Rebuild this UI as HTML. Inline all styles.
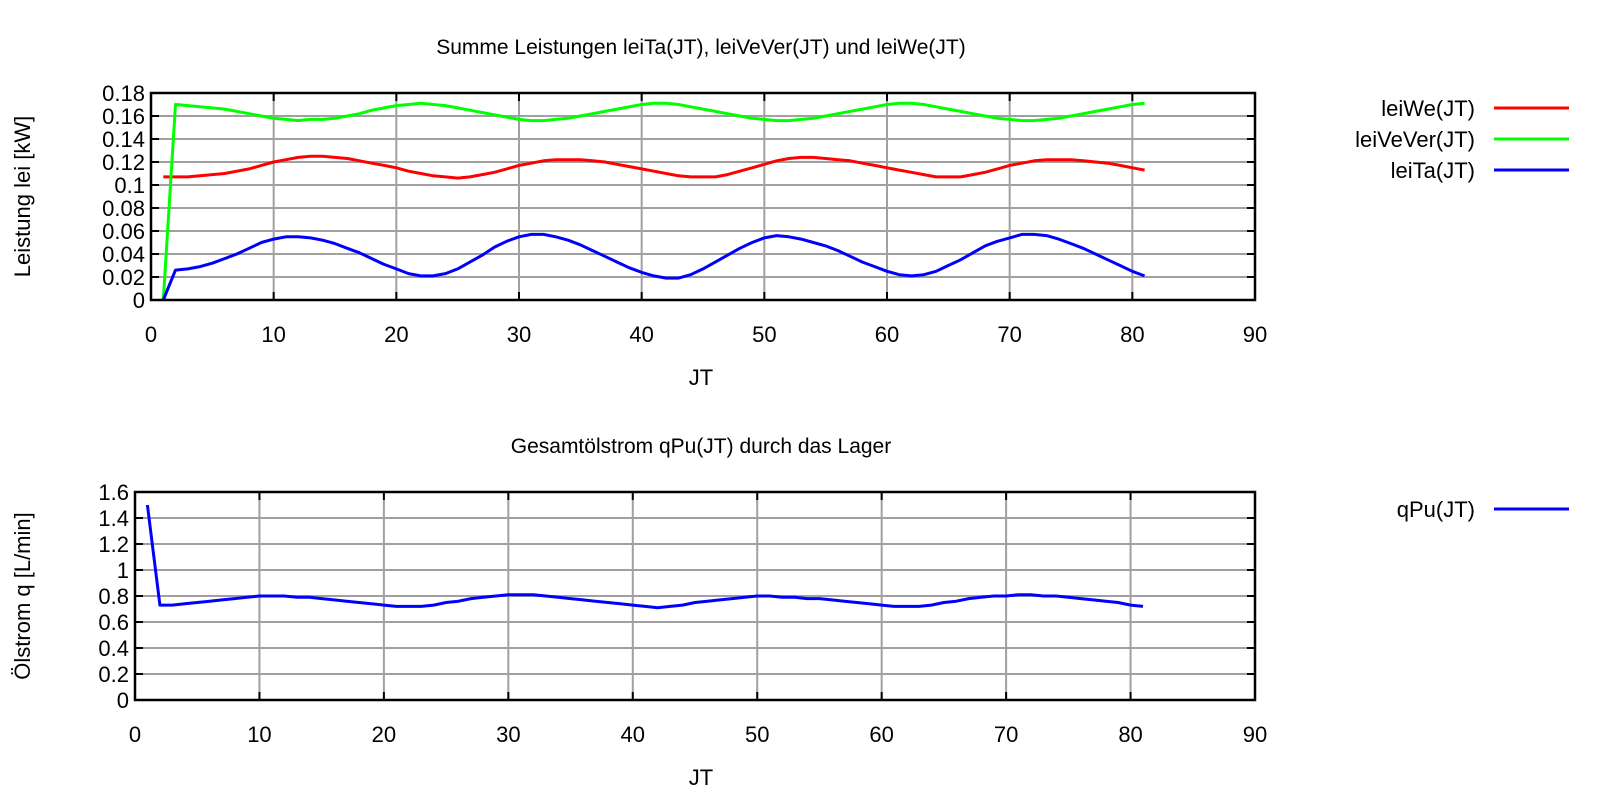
<!DOCTYPE html>
<html><head><meta charset="utf-8"><style>
html,body{margin:0;padding:0;background:#fff;}
svg text{font-family:"Liberation Sans",sans-serif;fill:#000;}
</style></head><body>
<svg id="chart" width="1600" height="800" xmlns="http://www.w3.org/2000/svg">
<g id="g"></g>
</svg>
<script>
const jt = [];
for (let i = 1; i <= 81; i++) jt.push(i);
const leiVeVer = [0,.170,.169,.168,.167,.166,.164,.162,.160,.158,.157,.156,.157,.157,.158,.160,.162,.165,.167,.169,.170,.171,.170,.169,.167,.165,.163,.161,.159,.157,.156,.156,.157,.158,.160,.162,.164,.166,.168,.170,.171,.171,.170,.168,.166,.164,.162,.160,.158,.157,.156,.156,.157,.158,.160,.162,.164,.166,.168,.170,.171,.171,.170,.168,.166,.164,.162,.160,.158,.157,.156,.156,.157,.158,.160,.162,.164,.166,.168,.170,.171];
const leiWe = [.107,.107,.107,.108,.109,.110,.112,.114,.117,.120,.122,.124,.125,.125,.124,.123,.121,.119,.117,.115,.112,.110,.108,.107,.106,.107,.109,.111,.114,.117,.119,.121,.122,.122,.122,.121,.120,.118,.116,.114,.112,.110,.108,.107,.107,.107,.109,.112,.115,.118,.121,.123,.124,.124,.123,.122,.121,.119,.117,.115,.113,.111,.109,.107,.107,.107,.109,.111,.114,.117,.119,.121,.122,.122,.122,.121,.120,.119,.117,.115,.113];
const leiTa = [0,.026,.027,.029,.032,.036,.040,.045,.050,.053,.055,.055,.054,.052,.049,.045,.041,.036,.031,.027,.023,.021,.021,.023,.027,.033,.039,.046,.051,.055,.057,.057,.055,.052,.048,.043,.038,.033,.028,.024,.021,.019,.019,.022,.027,.033,.039,.045,.050,.054,.056,.055,.053,.050,.047,.043,.038,.033,.029,.025,.022,.021,.022,.025,.030,.035,.041,.047,.051,.054,.057,.057,.056,.053,.049,.045,.040,.035,.030,.025,.021];
const qPu = [1.5,.73,.73,.74,.75,.76,.77,.78,.79,.80,.80,.80,.79,.79,.78,.77,.76,.75,.74,.73,.72,.72,.72,.73,.75,.76,.78,.79,.80,.81,.81,.81,.80,.79,.78,.77,.76,.75,.74,.73,.72,.71,.72,.73,.75,.76,.77,.78,.79,.80,.80,.79,.79,.78,.78,.77,.76,.75,.74,.73,.72,.72,.72,.73,.75,.76,.78,.79,.80,.80,.81,.81,.80,.80,.79,.78,.77,.76,.75,.73,.72];
const xTicks = [0,10,20,30,40,50,60,70,80,90];
const yTicksTop = [0,0.02,0.04,0.06,0.08,0.1,0.12,0.14,0.16,0.18];
const yTickLabelsTop = ["0","0.02","0.04","0.06","0.08","0.1","0.12","0.14","0.16","0.18"];
const yTicksBot = [0,0.2,0.4,0.6,0.8,1,1.2,1.4,1.6];
const yTickLabelsBot = ["0","0.2","0.4","0.6","0.8","1","1.2","1.4","1.6"];

const NS = "http://www.w3.org/2000/svg";
const G = document.getElementById('g');
function mk(tag, attrs, parent) {
  const e = document.createElementNS(NS, tag);
  for (const k in attrs) e.setAttribute(k, attrs[k]);
  (parent || G).appendChild(e);
  return e;
}
function panel(p) {
  const grp = mk('g', {});
  
  
  const sx = v => p.x0 + (v - 0) / 90 * (p.x1 - p.x0);
  const sy = v => p.y0 - v / p.ymax * (p.y0 - p.y1);
  xTicks.forEach(t => {
    if (t === 0 || t === 90) return;
    const l = mk('line', {x1: sx(t), x2: sx(t), y1: p.y1, y2: p.y0, stroke: '#a0a0a0', 'stroke-width': 2}, grp);
    
    
  });
  p.yt.forEach(t => {
    if (t === 0 || t === p.ymax) return;
    const l = mk('line', {x1: p.x0, x2: p.x1, y1: sy(t), y2: sy(t), stroke: '#a0a0a0', 'stroke-width': 2}, grp);
    
    
  });
  xTicks.forEach(t => {
    mk('line', {x1: sx(t), x2: sx(t), y1: p.y0, y2: p.y0 - 8, stroke: '#000', 'stroke-width': 2}, grp);
    mk('line', {x1: sx(t), x2: sx(t), y1: p.y1, y2: p.y1 + 8, stroke: '#000', 'stroke-width': 2}, grp);
    const tx = mk('text', {x: sx(t), y: p.y0 + 42, 'font-size': 22, 'text-anchor': 'middle'}, grp);
    tx.textContent = String(t);
    
    
  });
  p.yt.forEach((t, i) => {
    mk('line', {x1: p.x0, x2: p.x0 + 8, y1: sy(t), y2: sy(t), stroke: '#000', 'stroke-width': 2}, grp);
    mk('line', {x1: p.x1, x2: p.x1 - 8, y1: sy(t), y2: sy(t), stroke: '#000', 'stroke-width': 2}, grp);
    const tx = mk('text', {x: p.x0 - 6, y: sy(t) + 8, 'font-size': 22, 'text-anchor': 'end'}, grp);
    tx.textContent = p.ytl[i];
    
    
  });
  p.series.forEach((s, si) => {
    const d = jt.map((x, i) => (i ? 'L' : 'M') + sx(x).toFixed(1) + ',' + sy(s.vals[i]).toFixed(1)).join('');
    const path = mk('path', {d: d, fill: 'none', stroke: s.color, 'stroke-width': 3, 'stroke-linejoin': 'round'}, grp);
    
    
    const ly = p.legY + si * 31;
    const lt = mk('text', {x: 1475, y: ly + 8, 'font-size': 22, 'text-anchor': 'end'}, grp);
    lt.textContent = s.label;
    
    
    const ll = mk('line', {x1: 1494, x2: 1569, y1: ly, y2: ly, stroke: s.color, 'stroke-width': 3}, grp);
    
    
  });
  const b = mk('rect', {x: p.x0, y: p.y1, width: p.x1 - p.x0, height: p.y0 - p.y1, fill: 'none', stroke: '#000', 'stroke-width': 2.5}, grp);
  
  
  const ti = mk('text', {x: 701, y: p.titleY, 'font-size': 21, 'text-anchor': 'middle'}, grp);
  ti.textContent = p.title;
  
  
  const xl = mk('text', {x: 701, y: p.y0 + 85, 'font-size': 22, 'text-anchor': 'middle'}, grp);
  xl.textContent = 'JT';
  
  
  const cy = (p.y0 + p.y1) / 2;
  const yl = mk('text', {x: 30, y: cy, 'font-size': 22, 'text-anchor': 'middle', transform: 'rotate(-90 30 ' + cy + ')'}, grp);
  yl.textContent = p.ylabel;
  
  
}
panel({name: 'top-panel', x0: 151, x1: 1255, y0: 300, y1: 93, ymax: 0.18, yt: yTicksTop, ytl: yTickLabelsTop,
  title: 'Summe Leistungen leiTa(JT), leiVeVer(JT) und leiWe(JT)', titleY: 54, ylabel: 'Leistung lei [kW]', legY: 108,
  series: [{name: 'leiWe-line', label: 'leiWe(JT)', color: '#ff0000', vals: leiWe},
           {name: 'leiVeVer-line', label: 'leiVeVer(JT)', color: '#00ff00', vals: leiVeVer},
           {name: 'leiTa-line', label: 'leiTa(JT)', color: '#0000ff', vals: leiTa}]});
panel({name: 'bottom-panel', x0: 135, x1: 1255, y0: 700, y1: 492, ymax: 1.6, yt: yTicksBot, ytl: yTickLabelsBot,
  title: 'Gesamtölstrom qPu(JT) durch das Lager', titleY: 453, ylabel: 'Ölstrom q [L/min]', legY: 509,
  series: [{name: 'qPu-line', label: 'qPu(JT)', color: '#0000ff', vals: qPu}]});
</script>
</body></html>
